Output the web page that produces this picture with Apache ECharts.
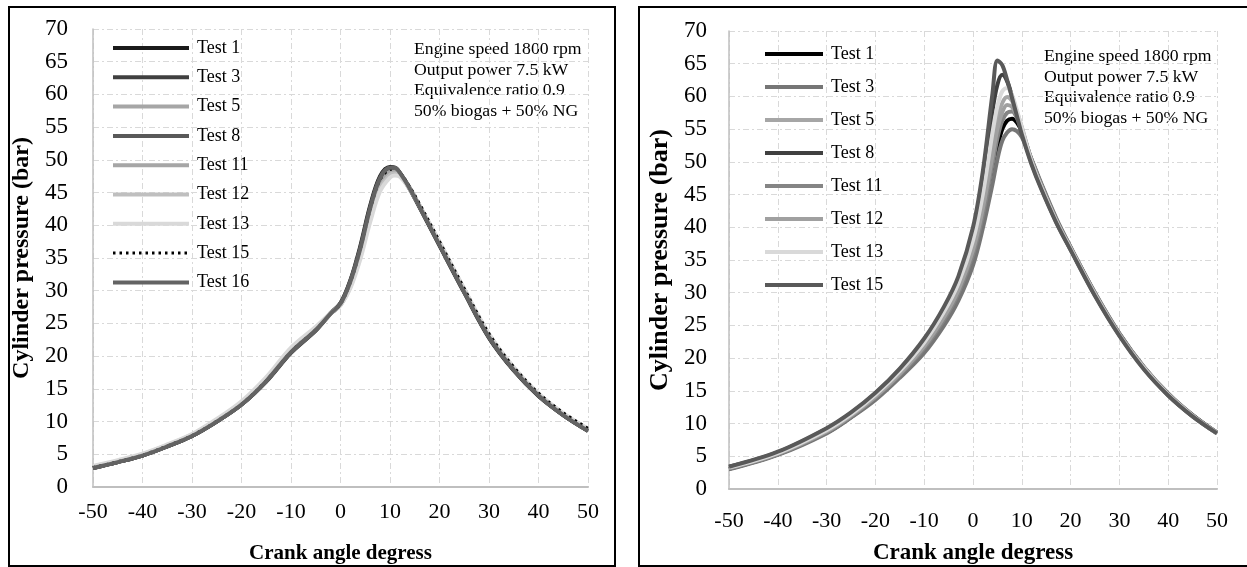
<!DOCTYPE html>
<html>
<head>
<meta charset="utf-8">
<script src="https://cdn.jsdelivr.net/npm/echarts@6/dist/echarts.min.js"></script>
<style>
  html, body { margin: 0; padding: 0; background: #fff; }
  .panel { position: absolute; border: 2px solid #000; background: #fff; }
  #left { left: 8px; top: 6px; width: 604px; height: 557px; }
  #right { left: 638px; top: 6px; width: 616px; height: 557px; }
</style>
</head>
<body>
<div id="left" class="panel"></div>
<div id="right" class="panel"></div>
<script>
// crank angle (deg) for left panel
const anglesL = [-50, -45, -40, -35, -30, -25, -20, -15, -10, -5, -2, 0, 2, 4, 6, 8, 10, 11, 12, 14, 16, 20, 25, 30, 35, 40, 45, 50];
// cylinder pressure (bar), left panel
const test1L = [2.9, 3.8, 4.8, 6.2, 7.8, 10.0, 12.6, 16.2, 20.6, 24.0, 26.6, 28.1, 31.6, 36.8, 43.0, 47.5, 48.9, 48.8, 47.9, 45.5, 42.7, 36.9, 29.7, 22.8, 17.8, 13.9, 11.0, 8.6];
const test3L = [2.9, 3.8, 4.8, 6.2, 7.8, 10.0, 12.6, 16.1, 20.5, 23.9, 26.5, 28.0, 31.3, 36.2, 42.4, 47.0, 48.6, 48.7, 48.0, 45.7, 42.9, 37.1, 29.9, 23.0, 17.9, 14.0, 11.0, 8.6];
const test5L = [3.0, 3.9, 4.9, 6.3, 7.9, 10.1, 12.7, 16.3, 20.8, 24.1, 26.5, 27.9, 31.0, 35.8, 41.8, 46.4, 48.2, 48.3, 47.8, 45.6, 42.9, 37.2, 30.0, 23.1, 18.0, 14.1, 11.1, 8.7];
const test8L = [2.9, 3.8, 4.8, 6.2, 7.8, 10.0, 12.6, 16.2, 20.6, 24.0, 26.5, 28.0, 31.5, 36.5, 42.7, 47.3, 48.8, 48.8, 48.0, 45.6, 42.8, 37.0, 29.8, 22.9, 17.9, 14.0, 11.0, 8.6];
const test11L = [3.0, 3.9, 4.9, 6.3, 7.9, 10.1, 12.8, 16.4, 20.9, 24.2, 26.5, 27.8, 30.8, 35.5, 41.4, 46.0, 48.0, 48.2, 47.7, 45.6, 42.9, 37.3, 30.1, 23.2, 18.1, 14.1, 11.1, 8.7];
const test12L = [3.1, 4.0, 5.0, 6.4, 8.0, 10.2, 12.9, 16.5, 21.0, 24.3, 26.5, 27.8, 30.6, 35.2, 41.0, 45.6, 47.7, 47.9, 47.6, 45.6, 43.0, 37.4, 30.2, 23.3, 18.2, 14.2, 11.2, 8.8];
const test13L = [3.2, 4.1, 5.1, 6.5, 8.1, 10.4, 13.1, 16.8, 21.3, 24.5, 26.6, 27.8, 30.4, 34.8, 40.5, 45.2, 47.3, 47.6, 47.4, 45.5, 43.0, 37.5, 30.3, 23.4, 18.3, 14.3, 11.3, 8.9];
const test15L = [3.0, 3.9, 4.9, 6.3, 7.9, 10.1, 12.7, 16.3, 20.7, 24.1, 26.5, 27.9, 31.2, 36.2, 42.3, 46.9, 48.5, 48.6, 48.1, 45.9, 43.3, 37.6, 30.4, 23.5, 18.4, 14.4, 11.4, 9.0];
const test16L = [2.9, 3.8, 4.8, 6.2, 7.8, 10.0, 12.6, 16.2, 20.6, 24.0, 26.5, 28.0, 31.4, 36.4, 42.6, 47.2, 48.8, 48.8, 48.0, 45.6, 42.8, 37.0, 29.8, 22.9, 17.9, 14.0, 11.0, 8.6];

// crank angle (deg) for right panel
const anglesR = [-50, -40, -30, -25, -20, -15, -10, -6, -3, 0, 2, 4, 5, 6, 7, 8, 9, 10, 12, 14, 17, 20, 25, 30, 35, 40, 45, 50];
// cylinder pressure (bar), right panel
const test1R = [3.1, 5.3, 8.6, 11.0, 13.8, 17.2, 21.2, 25.4, 29.4, 35.0, 40.8, 48.2, 52.2, 55.0, 56.3, 56.6, 56.0, 54.6, 50.3, 46.5, 41.3, 36.9, 29.9, 23.7, 18.6, 14.5, 11.3, 8.6];
const test3R = [3.0, 5.2, 8.5, 10.9, 13.6, 17.0, 20.8, 24.9, 28.8, 34.2, 39.8, 46.6, 50.4, 53.2, 54.5, 55.0, 54.7, 53.8, 50.4, 46.7, 41.5, 37.0, 30.0, 23.8, 18.7, 14.6, 11.3, 8.6];
const test5R = [3.3, 5.5, 8.9, 11.3, 14.3, 17.8, 22.1, 26.6, 30.9, 37.2, 43.8, 52.5, 56.6, 59.0, 59.9, 59.3, 57.6, 55.3, 50.2, 46.3, 41.1, 36.8, 29.8, 23.6, 18.5, 14.4, 11.2, 8.6];
const test8R = [3.4, 5.6, 9.2, 11.6, 14.6, 18.3, 22.8, 27.5, 32.0, 39.0, 46.8, 57.8, 61.8, 63.3, 62.3, 60.0, 57.3, 54.6, 49.8, 46.0, 40.9, 36.6, 29.6, 23.5, 18.4, 14.3, 11.1, 8.5];
const test11R = [3.2, 5.3, 8.7, 11.1, 14.0, 17.4, 21.5, 25.8, 29.9, 35.8, 41.8, 49.6, 53.6, 56.3, 57.5, 57.7, 56.7, 54.9, 50.3, 46.4, 41.2, 36.9, 29.9, 23.7, 18.6, 14.5, 11.2, 8.6];
const test12R = [3.2, 5.4, 8.8, 11.2, 14.1, 17.6, 21.8, 26.2, 30.4, 36.5, 42.8, 51.0, 55.0, 57.6, 58.7, 58.4, 57.0, 55.0, 50.2, 46.3, 41.1, 36.8, 29.8, 23.6, 18.6, 14.4, 11.2, 8.6];
const test13R = [3.3, 5.5, 9.0, 11.4, 14.4, 18.0, 22.4, 27.0, 31.4, 38.0, 45.0, 54.5, 58.5, 60.8, 61.3, 60.2, 57.9, 55.2, 50.0, 46.1, 41.0, 36.7, 29.7, 23.5, 18.5, 14.4, 11.2, 8.5];
const test15R = [3.4, 5.7, 9.3, 11.7, 14.7, 18.4, 23.0, 27.8, 32.5, 40.0, 48.5, 60.5, 65.5, 64.8, 62.5, 59.8, 57.0, 54.2, 49.6, 45.8, 40.8, 36.5, 29.5, 23.4, 18.3, 14.3, 11.1, 8.5];

const notes = "Engine speed 1800 rpm\nOutput power 7.5 kW\nEquivalence ratio 0.9\n50% biogas + 50% NG";

const FONT = "'Liberation Serif', 'Times New Roman', serif";

function lineItem(name, angles, values, color, dotted) {
  return {
    name: name,
    type: "line",
    data: angles.map((a, i) => [a, values[i]]),
    symbol: "none",
    smooth: 0.35,
    lineStyle: {
      color: color,
      width: dotted ? 2.5 : 4,
      type: dotted ? [2.5, 4] : "solid",
    },
    itemStyle: { color: color },
  };
}

function drawChart(domId, series, cfg) {
  const chart = echarts.init(document.getElementById(domId));
  // legend entries with the same thickness as the plotted lines
  const legendData = series.map((s) => ({
    name: s.name,
    lineStyle: { width: s.lineStyle.type === "solid" ? 4 : 3 },
  }));
  chart.setOption({
    animation: false,
    grid: Object.assign({ outerBoundsMode: "none" }, cfg.grid),
    legend: {
      orient: "vertical",
      left: cfg.legend.left,
      top: cfg.legend.top,
      itemWidth: cfg.legend.itemWidth,
      itemHeight: 5,
      itemGap: cfg.legend.itemGap,
      data: legendData,
      // hide the little symbol that echarts puts on the legend line
      itemStyle: { opacity: 0 },
      textStyle: {
        fontFamily: FONT,
        fontSize: 18,
        color: "#000",
        lineHeight: 20,
        padding: [0, 0, 0, 3],
      },
    },
    xAxis: {
      type: "value",
      min: -50,
      max: 50,
      interval: 10,
      name: "Crank angle degress",
      nameLocation: "middle",
      nameGap: cfg.xNameGap,
      nameTextStyle: { fontFamily: FONT, fontSize: cfg.xNameSize, fontWeight: "bold", color: "#000" },
      axisLine: { onZero: false, lineStyle: { color: "#bfbfbf", width: 2 } },
      axisTick: { show: false },
      axisLabel: { margin: cfg.xLabelMargin, fontFamily: FONT, fontSize: 22, color: "#000" },
      splitLine: { lineStyle: { color: "#d9d9d9", type: [6, 3, 2, 3] } },
    },
    yAxis: {
      type: "value",
      min: 0,
      max: 70,
      interval: 5,
      name: "Cylinder pressure (bar)",
      nameLocation: "middle",
      nameRotate: 90,
      nameGap: cfg.yNameGap,
      nameTextStyle: { fontFamily: FONT, fontSize: cfg.yNameSize, fontWeight: "bold", color: "#000" },
      axisLine: { show: true, onZero: false, lineStyle: { color: "#bfbfbf", width: 1.5 } },
      axisTick: { show: false },
      axisLabel: { margin: cfg.yLabelMargin, fontFamily: FONT, fontSize: 23, color: "#000" },
      splitLine: { lineStyle: { color: "#d9d9d9", type: [6, 3, 2, 3] } },
    },
    graphic: [
      {
        type: "text",
        left: cfg.noteLeft,
        top: cfg.noteTop,
        style: { text: notes, fontFamily: FONT, fontSize: 17.7, lineHeight: 20.7, fill: "#000" },
      },
    ],
    series: series,
  });
}

const leftSeries = [
  lineItem("Test 1", anglesL, test1L, "#1a1a1a"),
  lineItem("Test 3", anglesL, test3L, "#404040"),
  lineItem("Test 5", anglesL, test5L, "#a6a6a6"),
  lineItem("Test 8", anglesL, test8L, "#595959"),
  lineItem("Test 11", anglesL, test11L, "#a6a6a6"),
  lineItem("Test 12", anglesL, test12L, "#bfbfbf"),
  lineItem("Test 13", anglesL, test13L, "#d9d9d9"),
  lineItem("Test 15", anglesL, test15L, "#000000", true),
  lineItem("Test 16", anglesL, test16L, "#636363"),
];

const rightSeries = [
  lineItem("Test 1", anglesR, test1R, "#000000"),
  lineItem("Test 3", anglesR, test3R, "#767676"),
  lineItem("Test 5", anglesR, test5R, "#a6a6a6"),
  lineItem("Test 8", anglesR, test8R, "#404040"),
  lineItem("Test 11", anglesR, test11R, "#858585"),
  lineItem("Test 12", anglesR, test12R, "#a0a0a0"),
  lineItem("Test 13", anglesR, test13R, "#d9d9d9"),
  lineItem("Test 15", anglesR, test15R, "#595959"),
];

drawChart("left", leftSeries, {
  grid: { left: 83, right: 26, top: 21, bottom: 78 },
  legend: { left: 96, top: 25, itemWidth: 76, itemGap: 9.3 },
  xNameGap: 56, xNameSize: 21, xLabelMargin: 14,
  yNameGap: 47, yNameSize: 24, yLabelMargin: 25,
  noteLeft: 404, noteTop: 31,
});

drawChart("right", rightSeries, {
  grid: { left: 89, right: 39, top: 23, bottom: 76 },
  legend: { left: 118, top: 31, itemWidth: 58, itemGap: 13 },
  xNameGap: 53, xNameSize: 23, xLabelMargin: 21,
  yNameGap: 55, yNameSize: 26, yLabelMargin: 22,
  noteLeft: 404, noteTop: 38,
});
</script>
</body>
</html>
